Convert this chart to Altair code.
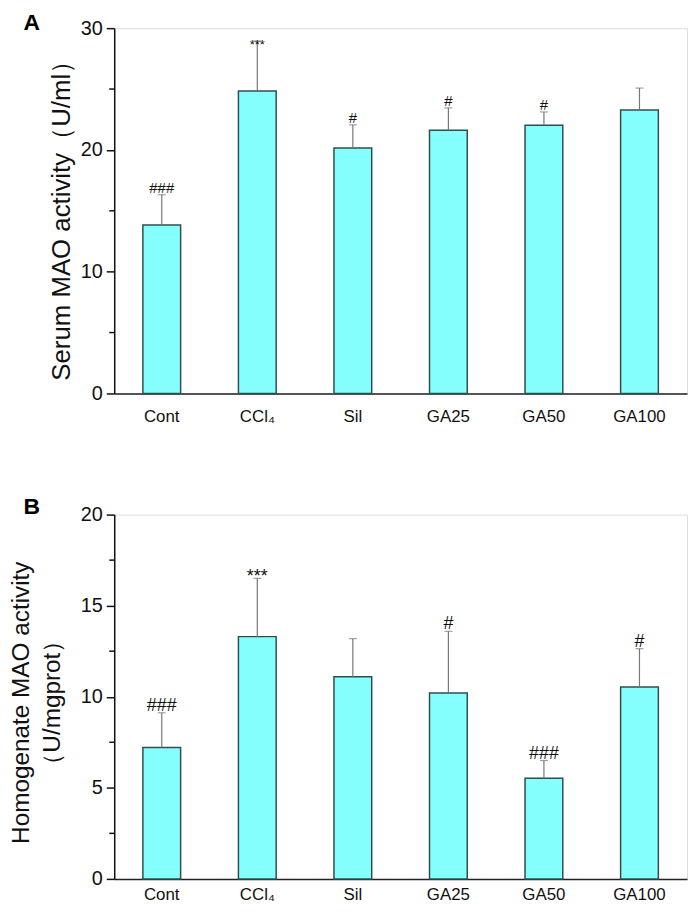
import altair as alt
import pandas as pd

FONT = "Liberation Sans"

groups = ["Cont", "CCl₄", "Sil", "GA25", "GA50", "GA100"]

serum_mean = [13.83, 24.83, 20.16, 21.62, 22.03, 23.28]
serum_err = [2.49, 4.12, 1.90, 1.83, 1.09, 1.80]
serum_sig = ["###", "***", "#", "#", "#", ""]

homo_mean = [7.22, 13.30, 11.10, 10.21, 5.52, 10.54]
homo_err = [1.90, 3.20, 2.09, 3.38, 0.98, 2.10]
homo_sig = ["###", "***", "", "#", "###", "#"]

serum_ticks = [0, 10, 20, 30]
serum_minor = [5, 15, 25]
homo_ticks = [0, 5, 10, 15, 20]
homo_minor = [2.5, 7.5, 12.5, 17.5]

serum_title = "Serum MAO activity（U/ml）"
homo_title = ["Homogenate MAO activity", "（U/mgprot）"]

W = 577


def make_df(means, errs, sigs):
    return pd.DataFrame({
        "group": groups,
        "mean": means,
        "upper": [m + e for m, e in zip(means, errs)],
        "sig": sigs,
    })


def panel(df, ticks, minor, dom, title, letter, letter_y, x_pad, title_x,
          title_y, title_size, title_lh, hash_size, star_size, star_dy, h):
    yaxis = alt.Axis(
        values=ticks, title=title, grid=False, tickSize=8, tickWidth=1.5,
        tickColor="#111", domainColor="#111", domainWidth=1.5,
        labelFontSize=20, labelFont=FONT, labelColor="#111", labelPadding=4,
        titleFontSize=title_size, titleFont=FONT, titleFontWeight="normal",
        titleColor="#111", titleX=title_x, titleY=title_y, titleAngle=270,
        titleAlign="center", titleBaseline="middle", titleLineHeight=title_lh,
    )
    yscale = alt.Scale(domain=dom, nice=False, zero=True)
    xenc = alt.X(
        "group:N", sort=groups,
        scale=alt.Scale(paddingInner=0.605, paddingOuter=0.3),
        axis=alt.Axis(title=None, labelAngle=0, ticks=False, tickSize=0,
                      labelPadding=x_pad, labelFontSize=17, labelFont=FONT,
                      labelColor="#111", domainColor="#222", domainWidth=1.5),
    )
    base = alt.Chart(df)
    bars = base.mark_bar(fill="#86FFFF", stroke="#2F4F4F", strokeWidth=1.5).encode(
        x=xenc, y=alt.Y("mean:Q", scale=yscale, axis=yaxis))
    err = base.mark_rule(color="#777777", strokeWidth=1.2).encode(
        x=xenc, y=alt.Y("mean:Q", scale=yscale, axis=yaxis), y2="upper:Q")
    cap = base.mark_tick(size=8, thickness=1.2, color="#777777").encode(
        x=xenc, y=alt.Y("upper:Q", scale=yscale, axis=yaxis))
    hashes = base.transform_filter("indexof(datum.sig, '#') >= 0").mark_text(
        baseline="alphabetic", dy=-2, fontSize=hash_size, font=FONT, color="#111"
    ).encode(x=xenc, y=alt.Y("upper:Q", scale=yscale, axis=yaxis), text="sig:N")
    stars = base.transform_filter("indexof(datum.sig, '*') >= 0").mark_text(
        baseline="alphabetic", dy=star_dy, fontSize=star_size, font=FONT, color="#111"
    ).encode(x=xenc, y=alt.Y("upper:Q", scale=yscale, axis=yaxis), text="sig:N")
    minor_ticks = alt.Chart(pd.DataFrame({"v": minor})).mark_rule(
        color="#111", strokeWidth=1.5).encode(
        y=alt.Y("v:Q", scale=yscale, axis=yaxis), x=alt.value(-5), x2=alt.value(0))
    lab = alt.Chart(pd.DataFrame({"t": [letter]})).mark_text(
        fontSize=23, fontWeight="bold", font=FONT, color="#000",
        align="center", baseline="alphabetic").encode(
        text="t:N", x=alt.value(-83), y=alt.value(letter_y))
    return alt.layer(bars, err, cap, hashes, stars, minor_ticks, lab).properties(
        width=W, height=h)


pa = panel(make_df(serum_mean, serum_err, serum_sig), serum_ticks, serum_minor,
           [0, 30], serum_title, "A", 2, 15, -53, 187, 26, 31, 15, 13, 8, 368)
pb = panel(make_df(homo_mean, homo_err, homo_sig), homo_ticks, homo_minor,
           [0, 20], homo_title, "B", -1, 8, -93, 189, 24.5, 31, 18, 18, 3.5, 367)

chart = alt.vconcat(pa, pb, spacing=70).properties(
    padding={"left": 0, "top": 0, "right": 0, "bottom": 0}
).configure_view(stroke=None).configure(font=FONT, background="white")

chart.save("out.html", embed_options={"renderer": "svg", "actions": False})
